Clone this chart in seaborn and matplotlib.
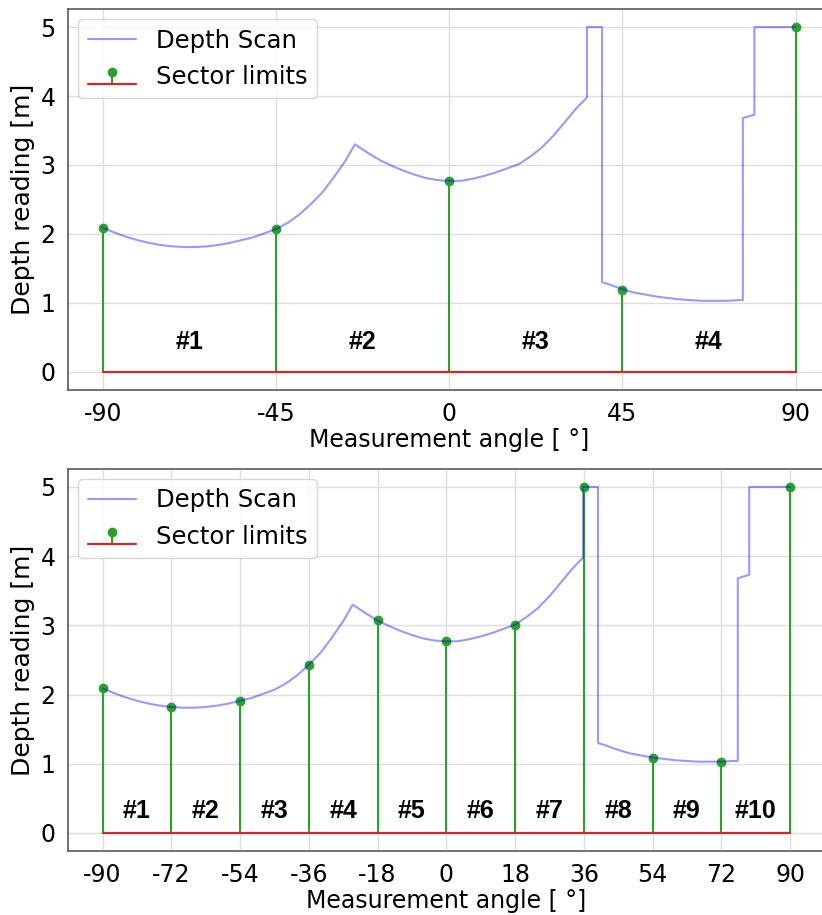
import numpy as np
import pandas as pd
import seaborn as sns
import matplotlib.pyplot as plt

# depth scan (angle in deg, depth in m)
scan_angle = [-90, -87, -84, -81, -78, -75, -72, -69, -66, -63, -60, -57, -54, -51, -48,
              -45, -42, -39, -36, -33, -30, -27, -24.5, -21, -18, -15, -12, -9, -6, -3,
              0, 3, 6, 9, 12, 15, 18, 21, 24, 27, 30, 33, 35.8, 35.8, 39.7, 39.7,
              42, 45, 48, 51, 54, 57, 60, 63, 66, 69, 72, 75, 76.3, 76.3, 79.3, 79.3, 90]
scan_depth = [2.09, 2.02, 1.96, 1.91, 1.87, 1.84, 1.82, 1.81, 1.81, 1.82, 1.84, 1.87, 1.91, 1.95, 2.01,
              2.07, 2.16, 2.28, 2.43, 2.60, 2.82, 3.06, 3.30, 3.17, 3.07, 2.99, 2.92, 2.86, 2.81, 2.78,
              2.77, 2.77, 2.80, 2.84, 2.89, 2.95, 3.01, 3.12, 3.25, 3.42, 3.62, 3.82, 3.98, 5.0, 5.0, 1.30,
              1.26, 1.20, 1.15, 1.12, 1.09, 1.07, 1.05, 1.04, 1.03, 1.03, 1.03, 1.04, 1.04, 3.68, 3.73, 5.0, 5.0]

limits_4 = [-90, -45, 0, 45, 90]
depth_4 = [2.09, 2.07, 2.77, 1.19, 5.0]
labels_4 = ['#1', '#2', '#3', '#4']

limits_10 = [-90, -72, -54, -36, -18, 0, 18, 36, 54, 72, 90]
depth_10 = [2.09, 1.82, 1.91, 2.43, 3.07, 2.78, 3.01, 5.0, 1.09, 1.03, 5.0]
labels_10 = ['#1', '#2', '#3', '#4', '#5', '#6', '#7', '#8', '#9', '#10']

scan = pd.DataFrame({'angle': scan_angle, 'depth': scan_depth})

sns.set_theme(style='whitegrid', rc={'axes.edgecolor': '0.35', 'axes.linewidth': 1.2,
                                     'grid.color': '0.87', 'text.color': 'black',
                                     'axes.labelcolor': 'black', 'xtick.color': 'black',
                                     'ytick.color': 'black'})
plt.rcParams['font.family'] = ['DejaVu Sans']

fig = plt.figure(figsize=(8.22, 9.15), dpi=100)
ax1 = fig.add_axes([0.083, 0.574, 0.927, 0.416])
ax2 = fig.add_axes([0.083, 0.070, 0.920, 0.4175])


def draw(ax, limits, depths, labels, label_y):
    mk, st, bl = ax.stem(limits, depths, linefmt='-', markerfmt='o', basefmt='-',
                         label='Sector limits')
    plt.setp(mk, markersize=6, color='#2ca02c')
    plt.setp(st, linewidth=1.5, color='#2ca02c')
    plt.setp(bl, linewidth=1.6, color='#d62728')
    sns.lineplot(data=scan, x='angle', y='depth', sort=False, estimator=None, ax=ax,
                 color='blue', alpha=0.4, linewidth=1.5, label='Depth Scan', zorder=4)
    mids = [(a + b) / 2 for a, b in zip(limits[:-1], limits[1:])]
    for m, t in zip(mids, labels):
        ax.text(m, label_y, t, ha='center', va='center', fontsize=18,
                fontweight='bold', family='Liberation Sans', color='black')
    ax.set_xticks(limits)
    ax.set_xticklabels([str(v) for v in limits])
    ax.set_yticks([0, 1, 2, 3, 4, 5])
    ax.tick_params(labelsize=17, pad=3)
    ax.set_xlabel('Measurement angle [ °]', fontsize=17, labelpad=1)
    ax.set_ylabel('Depth reading [m]', fontsize=18, labelpad=4)
    ax.set_xlim(-99, 99)
    ax.set_ylim(-0.26, 5.26)
    ax.legend(loc='upper left', fontsize=17.5, frameon=True, borderaxespad=0.4)


draw(ax1, limits_4, depth_4, labels_4, 0.43)
draw(ax2, limits_10, depth_10, labels_10, 0.32)

plt.savefig('out.png', dpi=100)
